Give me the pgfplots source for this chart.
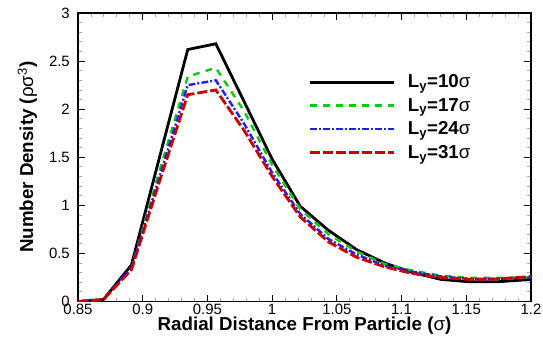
\documentclass[border=0pt]{standalone}
\usepackage{pgfplots}
\pgfplotsset{compat=1.18}
\usepackage{fontspec}
\setmainfont{Liberation Sans}
\definecolor{cgreen}{RGB}{10,205,10}
\definecolor{cblue}{RGB}{30,30,250}
\definecolor{cred}{RGB}{205,0,0}
\begin{document}
\begin{tikzpicture}
\useasboundingbox (-78bp,-38.5bp) rectangle (465bp,301.5bp);
\begin{axis}[
  scale only axis, width=453bp, height=288.5bp,
  at={(0,0)}, anchor=south west,
  xmin=0.85, xmax=1.2, ymin=0, ymax=3,
  xtick={0.85,0.9,...,1.21}, ytick={0,0.5,...,3.01},
  xticklabels={0.85,0.9,0.95,1,1.05,1.1,1.15,1.2},
  yticklabels={0,0.5,1,1.5,2,2.5,3},
  minor x tick num=4, minor y tick num=4,
  tick align=inside,
  major tick length=7bp, minor tick length=4bp,
  every major tick/.style={black, line width=1.1bp},
  every minor tick/.style={gray!70, line width=0.8bp},
  axis line style={line width=1.8bp},
  tick label style={font=\fontsize{15}{17}\selectfont},
  /pgf/number format/assume math mode=true,
  xticklabel style={anchor=base, yshift=-12.5bp, inner sep=0pt},
  yticklabel style={anchor=east, inner sep=0pt, xshift=-8bp},
  label style={font=\fontsize{18.8}{22}\selectfont\bfseries},
  xlabel={Radial Distance From Particle ({\mdseries σ})},
  ylabel={Number Density ({\mdseries ρσ\textsuperscript{3}})},
  xlabel style={at={(axis description cs:0.5,-0.102)}, anchor=base},
  ylabel style={at={(axis description cs:-0.0993,0.5)}, anchor=base},
  legend style={draw=none, fill=none, at={(axis description cs:0.503,0.80)}, anchor=north west,
    font=\fontsize{18.8}{22}\selectfont\bfseries, row sep=5bp,
    /tikz/every odd column/.append style={column sep=10bp}},
  legend cell align=left,
  legend image code/.code={\draw[#1] (0bp,0bp) -- (84bp,0bp);},
]
\addplot[black, line width=2.8bp] coordinates {
(0.85,0) (0.8696,0.02) (0.8913,0.38) (0.9130,1.50) (0.9348,2.62) (0.9565,2.68) (0.9783,2.08) (1.0,1.48) (1.0217,0.99) (1.0435,0.74) (1.0652,0.54) (1.0870,0.40) (1.1087,0.30) (1.1304,0.23) (1.1522,0.205) (1.1739,0.205) (1.1957,0.225) (1.2,0.23)};
\addlegendentry{L\textsubscript{y}=10{\mdseries σ}}
\addplot[cgreen, line width=2.4bp, dash pattern=on 6.7bp off 6.3bp] coordinates {
(0.85,0) (0.8696,0.02) (0.8913,0.35) (0.9130,1.36) (0.9348,2.34) (0.9565,2.43) (0.9783,1.98) (1.0,1.42) (1.0217,0.96) (1.0435,0.70) (1.0652,0.52) (1.0870,0.39) (1.1087,0.32) (1.1304,0.27) (1.1522,0.245) (1.1739,0.245) (1.1957,0.25) (1.2,0.25)};
\addlegendentry{L\textsubscript{y}=17{\mdseries σ}}
\addplot[cblue, line width=2.4bp, dash pattern=on 6.7bp off 2bp on 2bp off 2.3bp] coordinates {
(0.85,0) (0.8696,0.02) (0.8913,0.35) (0.9130,1.30) (0.9348,2.25) (0.9565,2.30) (0.9783,1.85) (1.0,1.34) (1.0217,0.91) (1.0435,0.65) (1.0652,0.49) (1.0870,0.37) (1.1087,0.31) (1.1304,0.26) (1.1522,0.235) (1.1739,0.235) (1.1957,0.245) (1.2,0.25)};
\addlegendentry{L\textsubscript{y}=24{\mdseries σ}}
\addplot[cred, line width=2.8bp, dash pattern=on 10bp off 3bp] coordinates {
(0.85,0) (0.8696,0.02) (0.8913,0.33) (0.9130,1.25) (0.9348,2.15) (0.9565,2.20) (0.9783,1.78) (1.0,1.30) (1.0217,0.88) (1.0435,0.62) (1.0652,0.46) (1.0870,0.36) (1.1087,0.29) (1.1304,0.25) (1.1522,0.23) (1.1739,0.235) (1.1957,0.255) (1.2,0.26)};
\addlegendentry{L\textsubscript{y}=31{\mdseries σ}}
\end{axis}
\end{tikzpicture}
\end{document}
